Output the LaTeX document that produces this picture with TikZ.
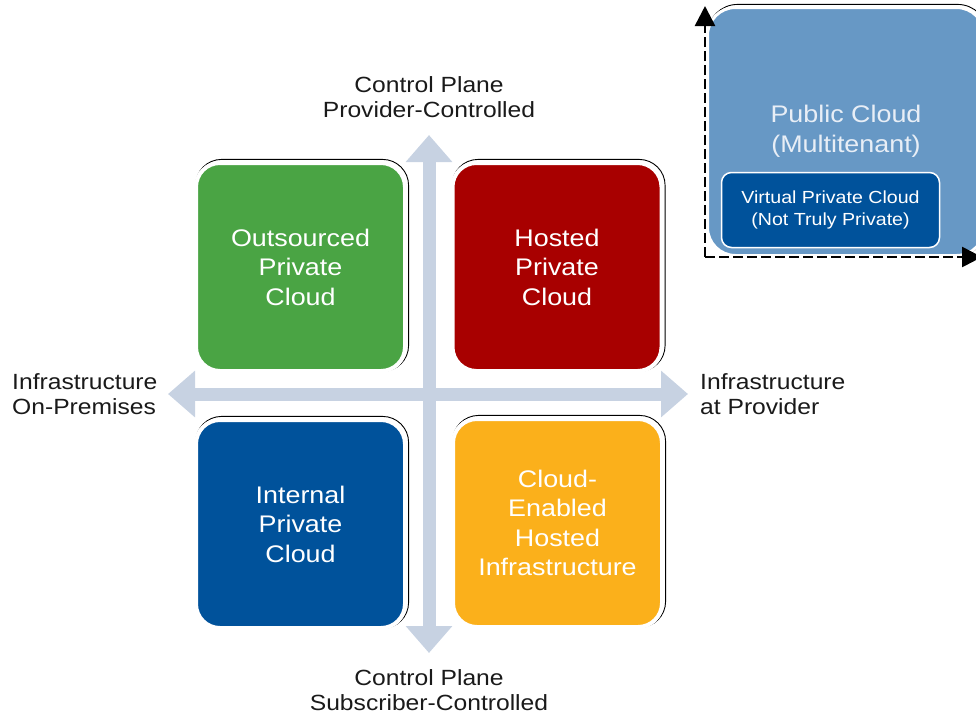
\documentclass[tikz,border=0pt]{standalone}
\usepackage{fontspec}
\setmainfont{Liberation Sans}[FakeStretch=1.12]
\usetikzlibrary{arrows.meta,backgrounds}

\definecolor{axisgrey}{RGB}{199,210,226}
\definecolor{qgreen}{RGB}{74,164,68}
\definecolor{qred}{RGB}{168,0,0}
\definecolor{qblue}{RGB}{0,82,155}
\definecolor{qorange}{RGB}{251,176,27}
\definecolor{pubblue}{RGB}{103,152,197}
\definecolor{pubtext}{RGB}{232,238,246}
\definecolor{labelink}{RGB}{26,26,26}

\tikzset{
  quad/.style={minimum width=209pt, minimum height=208pt, rounded corners=24pt,
    draw=white, line width=4pt, text=white, align=center, inner sep=0pt,
    font=\fontsize{24}{29.5}\selectfont},
  rimline/.style={draw=black, line width=0.9pt, rounded corners=26pt},
  axisarrow/.style={draw=axisgrey, line width=13pt,
    {Triangle[width=45pt,length=27pt]}-{Triangle[width=45pt,length=27pt]}},
  axislabel/.style={text=labelink, align=center, inner sep=0pt,
    font=\fontsize{22}{25.5}\selectfont},
  pubbox/.style={fill=pubblue, draw=white, line width=3pt, rounded corners=28pt,
    minimum width=277pt, minimum height=248pt, text=pubtext, align=center,
    inner sep=0pt, font=\fontsize{24}{30}\selectfont},
  vpcbox/.style={fill=qblue, draw=white, line width=1.5pt, rounded corners=10pt,
    minimum width=218pt, minimum height=75pt, text=white, align=center,
    inner sep=0pt, font=\fontsize{17.5}{22}\selectfont},
  dashaxis/.style={draw=black, line width=2.6pt, dash pattern=on 10pt off 4pt,
    -{Triangle[width=20pt,length=20pt]}}
}

\begin{document}
\begin{tikzpicture}[x=1pt,y=-1pt]
\useasboundingbox (0,0) rectangle (976,716);

% crossing axes of the quadrant chart
\coordinate (vtop) at (429,135);
\coordinate (vbot) at (429,653);
\coordinate (hleft) at (168,394);
\coordinate (hright) at (688,394);
\draw[axisarrow] (vbot) -- (vtop);
\draw[axisarrow] (hleft) -- (hright);

% the four deployment models
\node[quad, fill=qgreen]  (outsourced) at (300.5,267) {Outsourced\\Private\\Cloud};
\node[quad, fill=qred]    (hosted)     at (557,267)   {Hosted\\Private\\Cloud};
\node[quad, fill=qblue]   (internal)   at (300.5,524) {Internal\\Private\\Cloud};
\node[quad, fill=qorange] (enabled)    at (557.5,523) {Cloud-\\Enabled\\Hosted\\Infrastructure};

% thin dark rims peeking out at the top and right of each box
\begin{scope}[on background layer]
  \foreach \b in {outsourced,hosted,internal,enabled}
    \draw[rimline] ([shift={(1.6,-1.6)}]\b.north west) rectangle ([shift={(1.6,-1.6)}]\b.south east);
\end{scope}

% axis labels
\node[axislabel] (topl) at (429,97) {Control Plane\\Provider-Controlled};
\node[axislabel] (botl) at (429,690) {Control Plane\\Subscriber-Controlled};
\node[axislabel, anchor=west, align=left] (leftl) at (12,394) {Infrastructure\\On-Premises};
\node[axislabel, anchor=west, align=left] (rightl) at (700,394) {Infrastructure\\at Provider};

% public cloud corner
\node[pubbox] (pub) at (846,131.5) {Public Cloud\\(Multitenant)};
\begin{scope}[on background layer]
  \draw[draw=black, line width=0.9pt, rounded corners=30pt]
    ([shift={(1.6,-1.6)}]pub.north west) rectangle ([shift={(1.6,-1.6)}]pub.south east);
\end{scope}
\node[vpcbox] (vpc) at (830.5,210) {Virtual Private Cloud\\(Not Truly Private)};

\coordinate (pcorner) at (705,257);
\coordinate (pup) at (705,6);
\coordinate (pright) at (982,257);
\draw[dashaxis] (pcorner) -- (pup);
\draw[dashaxis] (pcorner) -- (pright);
\end{tikzpicture}
\end{document}
